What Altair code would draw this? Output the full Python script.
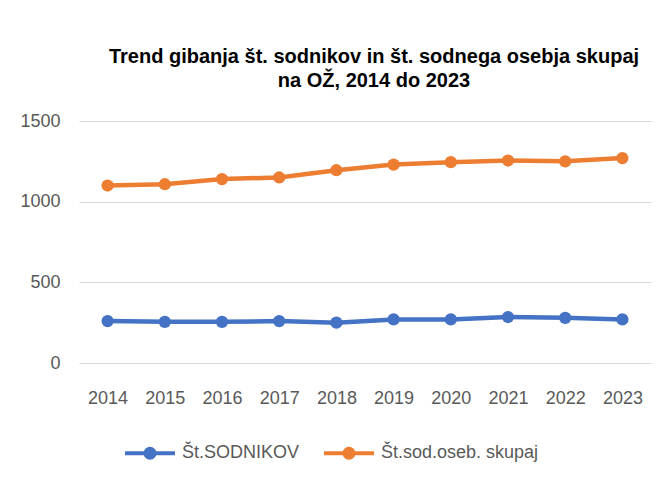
import altair as alt
import pandas as pd

years = ["2014", "2015", "2016", "2017", "2018", "2019", "2020", "2021", "2022", "2023"]
series_names = ["Št.SODNIKOV", "Št.sod.oseb. skupaj"]
sodniki = [260, 255, 255, 260, 250, 270, 270, 285, 280, 270]
osebje = [1100, 1108, 1140, 1150, 1195, 1230, 1245, 1255, 1250, 1270]
y_ticks = [0, 500, 1000, 1500]
colors = ["#4472C4", "#ED7D31"]
title_lines = ["Trend gibanja št. sodnikov in št. sodnega osebja skupaj", "na OŽ, 2014 do 2023"]

rows = []
for name, vals in zip(series_names, [sodniki, osebje]):
    for yr, v in zip(years, vals):
        rows.append({"leto": yr, "serija": name, "vrednost": v})
df = pd.DataFrame(rows)

legend_path = ("M-1,0H1 "
               "M-0.18,0A0.18,0.18 0 1,0 0.18,0A0.18,0.18 0 1,0 -0.18,0 "
               "M-0.06,0A0.06,0.06 0 1,0 0.06,0A0.06,0.06 0 1,0 -0.06,0")

chart = alt.Chart(df).mark_line(
    strokeWidth=4.5,
    point=alt.OverlayMarkDef(filled=True, size=150, opacity=1),
).encode(
    x=alt.X("leto:O", sort=years, title=None,
            scale=alt.Scale(type="point", padding=0.5),
            axis=alt.Axis(labelAngle=0, domain=False, ticks=False, grid=False, labelPadding=26,
                          labelFont="Liberation Sans", labelFontSize=18, labelColor="#595959")),
    y=alt.Y("vrednost:Q", title=None,
            scale=alt.Scale(domain=[0, 1500], nice=False),
            axis=alt.Axis(values=y_ticks, format="d", domain=False, ticks=False, labelPadding=19,
                          gridColor="#D9D9D9", gridWidth=1.2,
                          labelFont="Liberation Sans", labelFontSize=18, labelColor="#595959")),
    color=alt.Color("serija:N", sort=series_names,
                    scale=alt.Scale(domain=series_names, range=colors),
                    legend=alt.Legend(title=None, orient="none", direction="horizontal",
                                      legendX=44, legendY=305,
                                      symbolType=legend_path, symbolSize=2500,
                                      symbolStrokeWidth=4, columnPadding=16, labelOffset=5,
                                      labelFont="Liberation Sans", labelFontSize=18,
                                      labelColor="#595959")),
    order=alt.Order("leto:O"),
).properties(
    width=572,
    height=242,
    background="white",
    autosize=alt.AutoSizeParams(type="none"),
    padding={"left": 71, "top": 113, "right": 3, "bottom": 117},
    title=alt.TitleParams(text=title_lines, anchor="middle", font="Liberation Sans",
                          fontSize=20, fontWeight="bold", color="#000000",
                          lineHeight=24, offset=21, dx=9),
).configure_view(stroke=None)

chart.save("out.html", embed_options={"renderer": "svg", "actions": False})
